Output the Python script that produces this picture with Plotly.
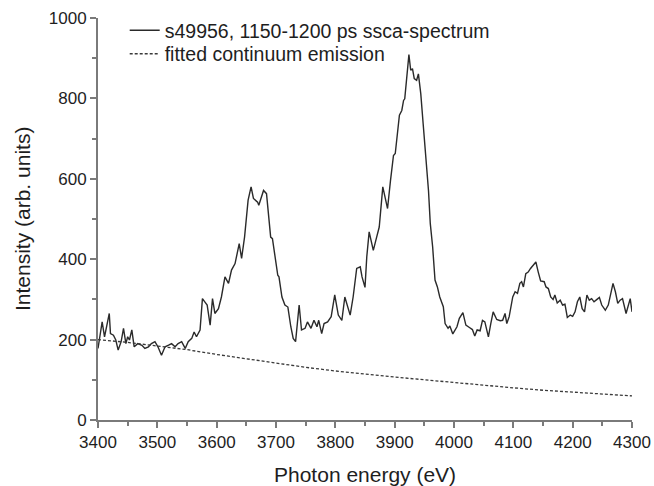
import plotly.graph_objects as go

energy = [
    3400, 3407, 3411, 3415, 3419, 3421, 3426, 3430, 3434, 3439,
    3443, 3447, 3450, 3453, 3457, 3461, 3467, 3474, 3479, 3485,
    3490, 3496, 3501, 3507, 3513, 3519, 3524, 3530, 3535, 3541,
    3547, 3552, 3558, 3562, 3566, 3572, 3576, 3580, 3584, 3589,
    3593, 3597, 3603, 3608, 3614, 3620, 3625, 3631, 3638, 3642,
    3647, 3653, 3658, 3662, 3669, 3671, 3679, 3684, 3687, 3691,
    3694, 3698, 3703, 3705, 3710, 3715, 3720, 3725, 3729, 3733,
    3739, 3743, 3749, 3753, 3759, 3764, 3769, 3772, 3777, 3781,
    3787, 3793, 3799, 3805, 3811, 3816, 3825, 3830, 3836, 3842,
    3845, 3850, 3853, 3857, 3861, 3864, 3869, 3874, 3880, 3888,
    3893, 3898, 3901, 3905, 3908, 3912, 3915, 3917, 3920, 3924,
    3927, 3930, 3933, 3937, 3940, 3944, 3948, 3953, 3957, 3960,
    3964, 3968, 3972, 3976, 3982, 3985, 3990, 3993, 3998, 4005,
    4009, 4015, 4020, 4026, 4031, 4035, 4039, 4044, 4048, 4052,
    4058, 4062, 4066, 4072, 4078, 4082, 4086, 4089, 4093, 4099,
    4103, 4107, 4111, 4114, 4117, 4121, 4125, 4129, 4133, 4138,
    4142, 4146, 4152, 4155, 4159, 4163, 4167, 4170, 4174, 4179,
    4183, 4187, 4191, 4196, 4200, 4204, 4208, 4212, 4216, 4220,
    4224, 4228, 4232, 4236, 4241, 4245, 4249, 4255, 4260, 4264,
    4268, 4272, 4276, 4280, 4284, 4290, 4294, 4297, 4300,
]
intensity = [
    178, 244, 207, 240, 265, 215, 211, 199, 174, 195,
    228, 190, 207, 199, 224, 182, 190, 186, 178, 182,
    190, 195, 182, 161, 182, 186, 190, 182, 190, 195,
    178, 195, 203, 219, 207, 224, 302, 294, 286, 236,
    302, 265, 277, 306, 356, 340, 373, 389, 439, 402,
    455, 547, 580, 551, 542, 534, 571, 563, 522, 455,
    451, 406, 360, 356, 306, 286, 281, 232, 203, 195,
    286, 224, 228, 244, 228, 248, 232, 248, 215, 240,
    244, 257, 311, 261, 248, 306, 261, 306, 377, 381,
    356, 330, 406, 468, 443, 422, 451, 480, 580, 526,
    596, 658, 663, 720, 758, 770, 795, 799, 853, 909,
    870, 874, 849, 845, 861, 812, 737, 654, 571, 489,
    431, 348, 331, 306, 282, 240, 228, 234, 214, 232,
    253, 267, 236, 230, 225, 209, 224, 222, 248, 244,
    207, 240, 269, 250, 247, 248, 265, 240, 257, 306,
    319, 315, 340, 344, 331, 364, 368, 377, 383, 393,
    368, 346, 344, 331, 327, 306, 300, 311, 291, 298,
    286, 288, 255, 261, 258, 269, 294, 306, 277, 269,
    311, 298, 302, 294, 300, 305, 286, 273, 286, 315,
    340, 319, 290, 298, 302, 265, 286, 302, 269,
]
assert len(energy) == len(intensity)

# Fitted continuum emission
cont_energy = [3400, 3450, 3500, 3550, 3600, 3650, 3700, 3750, 3800, 3850,
               3900, 3950, 4000, 4050, 4100, 4150, 4200, 4250, 4300]
cont_intensity = [200, 193, 184, 175, 163, 152, 141, 131, 122, 114,
                  107, 100, 93, 86, 80, 74, 69, 64, 60]

x_ticks = [3400, 3500, 3600, 3700, 3800, 3900, 4000, 4100, 4200, 4300]
y_ticks = [0, 200, 400, 600, 800, 1000]

series_names = ["s49956, 1150-1200 ps ssca-spectrum", "fitted continuum emission"]
x_title = "Photon energy (eV)"
y_title = "Intensity (arb. units)"

FONT = "Liberation Sans, Arial, Helvetica, sans-serif"
AXIS_COLOR = "#7a7a7a"
TEXT_COLOR = "#1e1e1e"

fig = go.Figure()
fig.add_trace(go.Scatter(
    x=energy, y=intensity, mode="lines", name=series_names[0],
    line=dict(color="#2a2a2a", width=1.4), legend="legend",
))
fig.add_trace(go.Scatter(
    x=cont_energy, y=cont_intensity, mode="lines", name=series_names[1],
    line=dict(color="#3a3a3a", width=1.3, dash="3px,2px"), legend="legend2",
))

legend_common = dict(
    xanchor="left", yanchor="middle",
    bgcolor="rgba(255,255,255,0)",
    font=dict(size=19.5, color=TEXT_COLOR),
)

fig.update_layout(
    width=654, height=486,
    margin=dict(l=98, r=22, t=17, b=66),
    paper_bgcolor="white", plot_bgcolor="white",
    font=dict(family=FONT, color=TEXT_COLOR, size=17),
    showlegend=True,
    legend=dict(x=0.05, y=0.9665, **legend_common),
    legend2=dict(x=0.05, y=0.908, **legend_common),
    xaxis=dict(
        range=[3400, 4300], automargin=False,
        tickmode="array", tickvals=x_ticks, ticktext=[str(v) for v in x_ticks],
        ticks="outside", ticklen=6, tickwidth=1.5, tickcolor=AXIS_COLOR,
        showline=True, linecolor=AXIS_COLOR, linewidth=1.8,
        showgrid=False, zeroline=False,
        minor=dict(ticks="outside", ticklen=4, tickwidth=1.5,
                   tickcolor=AXIS_COLOR, dtick=50, tick0=3400, showgrid=False),
        tickfont=dict(size=17, color=TEXT_COLOR),
    ),
    yaxis=dict(
        range=[0, 1000], automargin=False,
        tickmode="array", tickvals=y_ticks, ticktext=[str(v) for v in y_ticks],
        ticks="outside", ticklen=6, tickwidth=1.5, tickcolor=AXIS_COLOR,
        showline=True, linecolor=AXIS_COLOR, linewidth=1.8,
        showgrid=False, zeroline=False,
        minor=dict(ticks="outside", ticklen=4, tickwidth=1.5,
                   tickcolor=AXIS_COLOR, dtick=100, tick0=0, showgrid=False),
        tickfont=dict(size=17, color=TEXT_COLOR),
    ),
    annotations=[
        dict(text=x_title, xref="paper", yref="paper", x=0.5, y=-0.1365,
             xanchor="center", yanchor="middle", showarrow=False,
             font=dict(size=21, color=TEXT_COLOR)),
        dict(text=y_title, xref="paper", yref="paper", x=-0.1423, y=0.5,
             xanchor="center", yanchor="middle", showarrow=False, textangle=-90,
             font=dict(size=21, color=TEXT_COLOR)),
    ],
)

fig.write_html("out.html")
